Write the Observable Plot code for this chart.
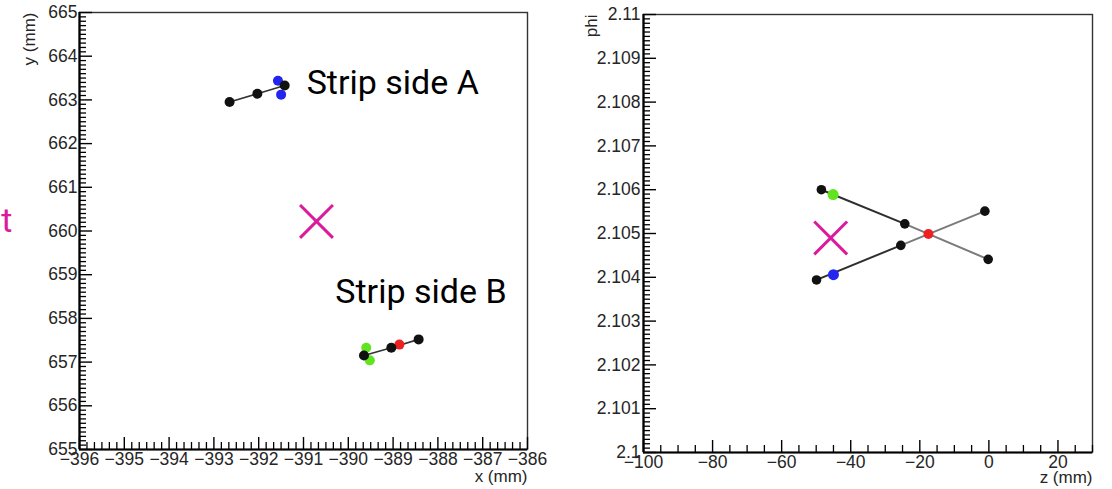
<!DOCTYPE html>
<html><head><meta charset="utf-8">
<script src="https://cdn.jsdelivr.net/npm/d3@7"></script>
<script src="https://cdn.jsdelivr.net/npm/@observablehq/plot@0.6"></script>
<style>
html,body{margin:0;padding:0;background:#fff;}
#wrap{position:relative;width:1112px;height:489px;overflow:hidden;background:#fff;}
#left,#right{position:absolute;top:0;}
#left{left:0;} #right{left:560px;}
</style></head><body>
<div id="wrap"><div id="left"></div><div id="right"></div></div>
<script>
// ---------------- Left panel: x–y view ----------------
const xyTicksX = [-396, -395, -394, -393, -392, -391, -390, -389, -388, -387, -386];
const xyTicksY = [655, 656, 657, 658, 659, 660, 661, 662, 663, 664, 665];
const stripATrackX = [-392.65, -392.03, -391.42];
const stripATrackY = [662.95, 663.14, 663.33];
const stripABlueX = [-391.57, -391.50];
const stripABlueY = [663.44, 663.12];
const stripBTrackX = [-389.65, -389.04, -388.43];
const stripBTrackY = [657.15, 657.33, 657.52];
const stripBGreenX = [-389.60, -389.52];
const stripBGreenY = [657.33, 657.04];
const stripBRedX = [-388.86];
const stripBRedY = [657.40];
const xyCrossX = [-390.71];
const xyCrossY = [660.22];
const xyLabels = ["Strip side A", "Strip side B"];
const xyLabelX = [-390.93, -390.29];
const xyLabelY = [663.39, 658.60];
const sideText = ["t"];
const sideTextX = [-397.5];
const sideTextY = [660.22];

// ---------------- Right panel: z–phi view ----------------
const zTicks = [-100, -80, -60, -40, -20, 0, 20];
const zDomain = [-100, 30];
const phiTicks = [2.1, 2.101, 2.102, 2.103, 2.104, 2.105, 2.106, 2.107, 2.108, 2.109, 2.11];
const lineAZ = [-48.5, -24.35, -0.2];
const lineAPhi = [2.10600, 2.10522, 2.10441];
const lineBZ = [-49.9, -25.5, -1.16];
const lineBPhi = [2.10394, 2.10473, 2.10551];
const greenZ = [-45.1], greenPhi = [2.10589];
const blueZ = [-45.0], bluePhi = [2.10406];
const redZ = [-17.5], redPhi = [2.10499];
const crossZ = [-45.8], crossPhi = [2.10490];

// ---------------- helpers ----------------
const MAGENTA = "#DC1A9C", BLUE = "#2424F0", GREEN = "#5FE41E", RED = "#EE2020", BLACK = "#111";
const zip = (xs, ys) => xs.map((x, i) => ({x, y: ys[i]}));
function subdivide(majors, n, domain) {
  const out = [];
  const step = (majors[1] - majors[0]) / n;
  const lo = domain ? domain[0] : majors[0], hi = domain ? domain[1] : majors[majors.length - 1];
  for (let v = majors[0] - step; v >= lo - 1e-9; v -= step) out.push(v);
  for (let i = 0; i < majors.length; i++) {
    for (let k = 1; k < n; k++) {
      const v = majors[i] + k * step;
      if (v <= hi + 1e-9 && (i < majors.length - 1 || domain)) out.push(v);
    }
  }
  return out;
}
function frameMarks(xMaj, xMin, yMaj, yMin, iw, ih, xmin, ymin) {
  return [
    Plot.frame({stroke: "#333", strokeWidth: 1.4}),
    Plot.ruleX([xmin], {stroke: "#000", strokeWidth: 2.2}),
    Plot.ruleY([ymin], {stroke: "#000", strokeWidth: 2.2}),
    Plot.tickX(xMin, {x: d => d, stroke: "#000", strokeWidth: 1.3, insetTop: ih - 7}),
    Plot.tickX(xMaj, {x: d => d, stroke: "#000", strokeWidth: 1.4, insetTop: ih - 12}),
    Plot.tickY(yMin, {y: d => d, stroke: "#000", strokeWidth: 1.3, insetRight: iw - 7}),
    Plot.tickY(yMaj, {y: d => d, stroke: "#000", strokeWidth: 1.4, insetRight: iw - 13})
  ];
}
const axisFont = '"Liberation Sans", Arial, Helvetica, sans-serif';
const annFont = 'Roboto, "Noto Sans", sans-serif';
const TICKFS = 17.5, TITLEFS = 17, LABELCOL = "#262626";

// ---------------- left plot ----------------
{
  const W = 560, H = 489, mL = 79, mR = 33, mT = 12, mB = 40;
  const iw = W - mL - mR, ih = H - mT - mB;
  const xDom = [xyTicksX[0], xyTicksX[xyTicksX.length - 1]];
  const yDom = [xyTicksY[0], xyTicksY[xyTicksY.length - 1]];
  const plot = Plot.plot({
    width: W, height: H, marginLeft: mL, marginRight: mR, marginTop: mT, marginBottom: mB,
    x: {domain: xDom}, y: {domain: yDom},
    style: {fontFamily: axisFont, fontSize: "17px", color: LABELCOL, background: "#fff", overflow: "visible"},
    marks: [
      ...frameMarks(xyTicksX, subdivide(xyTicksX, 6), xyTicksY, subdivide(xyTicksY, 10), iw, ih, xDom[0], yDom[0]),
      Plot.axisX(xyTicksX, {anchor: "bottom", tickSize: 0, tickPadding: 3, label: null, fontSize: TICKFS}),
      Plot.axisY(xyTicksY, {anchor: "left", tickSize: 0, tickPadding: 2, label: null, fontSize: TICKFS}),
      Plot.text(["x (mm)"], {frameAnchor: "bottom-right", textAnchor: "end", lineAnchor: "middle", dy: 27, fontSize: TITLEFS, fill: LABELCOL}),
      Plot.text(["y (mm)"], {frameAnchor: "top-left", rotate: -90, textAnchor: "end", lineAnchor: "middle", dx: 29 - mL, dy: 0, fontSize: TITLEFS, fill: LABELCOL}),
      Plot.line(zip(stripATrackX, stripATrackY), {x: "x", y: "y", stroke: "#333", strokeWidth: 1.6}),
      Plot.line(zip(stripBTrackX, stripBTrackY), {x: "x", y: "y", stroke: "#333", strokeWidth: 1.6}),
      Plot.dot(zip(stripABlueX, stripABlueY), {x: "x", y: "y", r: 5, fill: BLUE}),
      Plot.dot(zip(stripBGreenX, stripBGreenY), {x: "x", y: "y", r: 5, fill: GREEN}),
      Plot.dot(zip(stripBRedX, stripBRedY), {x: "x", y: "y", r: 5, fill: RED}),
      Plot.dot(zip(stripATrackX, stripATrackY), {x: "x", y: "y", r: 5, fill: BLACK}),
      Plot.dot(zip(stripBTrackX, stripBTrackY), {x: "x", y: "y", r: 5, fill: BLACK}),
      Plot.dot(zip(xyCrossX, xyCrossY), {x: "x", y: "y", symbol: "times", r: 15, stroke: MAGENTA, strokeWidth: 3}),
      Plot.text(xyLabels.map((t, i) => ({t, x: xyLabelX[i], y: xyLabelY[i]})), {x: "x", y: "y", text: "t", textAnchor: "start", lineAnchor: "middle", fontFamily: annFont, fontSize: 34, fill: "#000"}),
      Plot.text(sideText.map((t, i) => ({t, x: sideTextX[i], y: sideTextY[i]})), {x: "x", y: "y", text: "t", textAnchor: "end", lineAnchor: "middle", fontFamily: annFont, fontSize: 34, fill: MAGENTA})
    ]
  });
  document.getElementById("left").appendChild(plot);
}

// ---------------- right plot ----------------
{
  const W = 552, H = 489, mL = 83, mR = 20, mT = 14, mB = 37;
  const iw = W - mL - mR, ih = H - mT - mB;
  const yDom = [phiTicks[0], phiTicks[phiTicks.length - 1]];
  const segs = [];
  const addLine = (zs, ps, name) => {
    for (let s = 0; s < zs.length - 1; s++) {
      segs.push({z: zs[s], p: ps[s], seg: name + s});
      segs.push({z: zs[s + 1], p: ps[s + 1], seg: name + s});
    }
  };
  addLine(lineAZ, lineAPhi, "A");
  addLine(lineBZ, lineBPhi, "B");
  const segColor = s => s.endsWith("0") ? "#2e2e2e" : "#7a7a7a";
  const pts = (zs, ps) => zs.map((z, i) => ({z, p: ps[i]}));
  const plot = Plot.plot({
    width: W, height: H, marginLeft: mL, marginRight: mR, marginTop: mT, marginBottom: mB,
    x: {domain: zDomain}, y: {domain: yDom},
    style: {fontFamily: axisFont, fontSize: "17px", color: LABELCOL, background: "#fff", overflow: "visible"},
    marks: [
      ...frameMarks(zTicks, subdivide(zTicks, 4, zDomain), phiTicks, subdivide(phiTicks, 10), iw, ih, zDomain[0], yDom[0]),
      Plot.axisX(zTicks, {anchor: "bottom", tickSize: 0, tickPadding: 3, label: null, fontSize: TICKFS}),
      Plot.axisY(phiTicks, {anchor: "left", tickSize: 0, tickPadding: 3, label: null, fontSize: TICKFS, tickFormat: d => String(+d.toFixed(3))}),
      Plot.text(["z (mm)"], {frameAnchor: "bottom-right", textAnchor: "end", lineAnchor: "middle", dy: 25, fontSize: TITLEFS, fill: LABELCOL}),
      Plot.text(["phi"], {frameAnchor: "top-left", rotate: -90, textAnchor: "end", lineAnchor: "middle", dx: 591 - 560 - mL, dy: 0, fontSize: TITLEFS, fill: LABELCOL}),
      Plot.line(segs, {x: "z", y: "p", z: "seg", stroke: d => segColor(d.seg), strokeWidth: 2}),
      Plot.dot(pts([...lineAZ, ...lineBZ], [...lineAPhi, ...lineBPhi]), {x: "z", y: "p", r: 4.8, fill: BLACK}),
      Plot.dot(pts(greenZ, greenPhi), {x: "z", y: "p", r: 5.5, fill: GREEN}),
      Plot.dot(pts(blueZ, bluePhi), {x: "z", y: "p", r: 5.5, fill: BLUE}),
      Plot.dot(pts(redZ, redPhi), {x: "z", y: "p", r: 5, fill: RED}),
      Plot.dot(pts(crossZ, crossPhi), {x: "z", y: "p", symbol: "times", r: 15, stroke: MAGENTA, strokeWidth: 3})
    ]
  });
  document.getElementById("right").appendChild(plot);
}
</script>
</body></html>
